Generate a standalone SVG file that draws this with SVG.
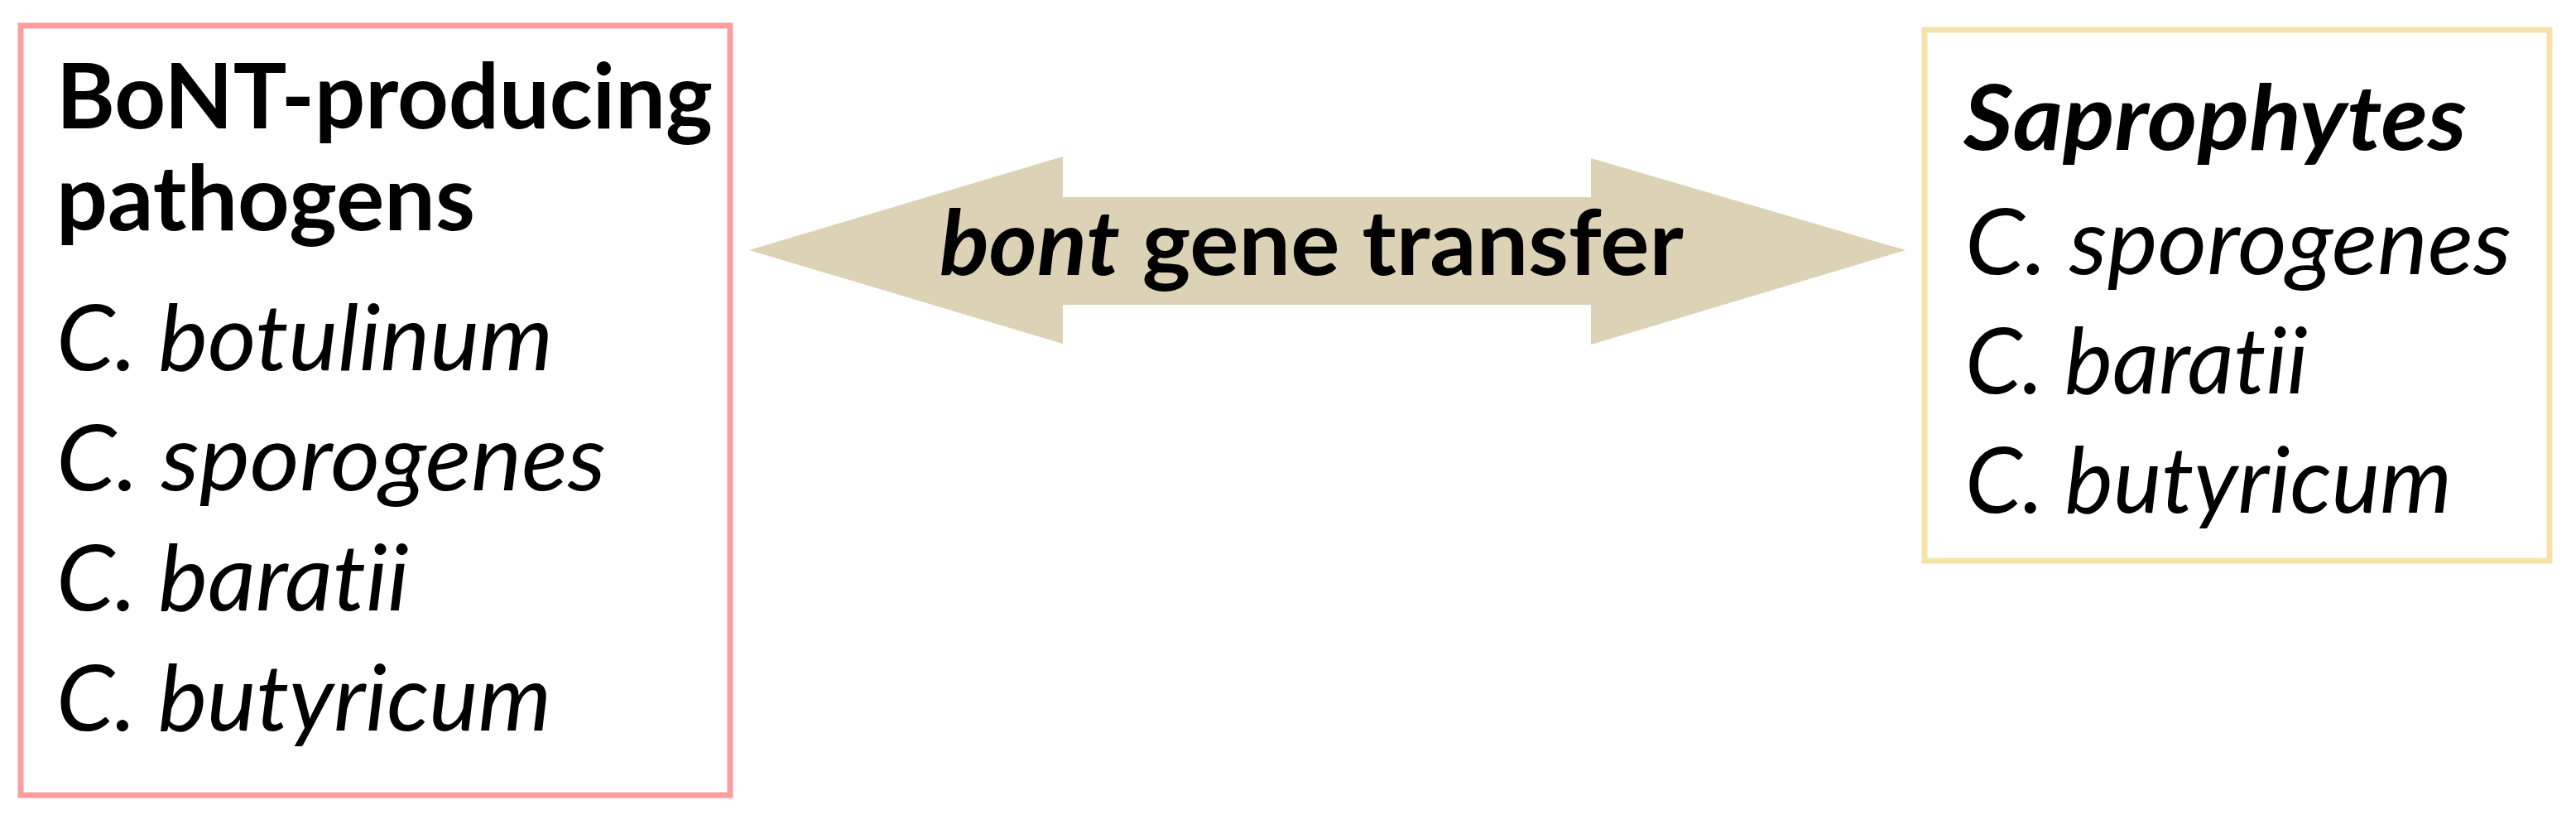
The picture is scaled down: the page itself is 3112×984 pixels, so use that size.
<svg xmlns="http://www.w3.org/2000/svg" width="3112" height="984" viewBox="0 0 3112 984">
<style>
.box{fill:#ffffff;stroke-width:7}
.t{font-family:Lato,"Open Sans","Liberation Sans",sans-serif;font-size:110px;fill:#000000;font-variant-ligatures:none;font-feature-settings:"liga" 0}
.b{font-weight:bold}
.i{font-style:italic}
</style>
<rect width="3112" height="984" fill="#ffffff"/>
<g id="connectors">
<polygon points="905,302 1284,189 1284,238 1922,238 1922,191 2302,302 1922,416 1922,368 1284,368 1284,415" fill="#DCD2B6"/>
<text class="t b" x="1135" y="332" textLength="899" lengthAdjust="spacingAndGlyphs"><tspan font-style="italic">bont</tspan> gene transfer</text>
</g>
<g id="pathogens">
<rect class="box" x="25" y="31" width="857" height="929" stroke="#FA9E9E"/>
<text class="t b" x="68" y="155" textLength="793" lengthAdjust="spacingAndGlyphs">BoNT-producing</text>
<text class="t b" x="68" y="278" textLength="506" lengthAdjust="spacingAndGlyphs">pathogens</text>
<text class="t i" x="68" y="447" textLength="600" lengthAdjust="spacingAndGlyphs">C. botulinum</text>
<text class="t i" x="68" y="592" textLength="664" lengthAdjust="spacingAndGlyphs">C. sporogenes</text>
<text class="t i" x="68" y="737" textLength="426" lengthAdjust="spacingAndGlyphs">C. baratii</text>
<text class="t i" x="68" y="882" textLength="598" lengthAdjust="spacingAndGlyphs">C. butyricum</text>
</g>
<g id="saprophytes">
<rect class="box" x="2325" y="36" width="755" height="641" stroke="#F5E3AA"/>
<text class="t b i" x="2372" y="181" textLength="608" lengthAdjust="spacingAndGlyphs">Saprophytes</text>
<text class="t i" x="2374" y="331" textLength="660" lengthAdjust="spacingAndGlyphs">C. sporogenes</text>
<text class="t i" x="2374" y="475" textLength="414" lengthAdjust="spacingAndGlyphs">C. baratii</text>
<text class="t i" x="2374" y="619" textLength="588" lengthAdjust="spacingAndGlyphs">C. butyricum</text>
</g>
</svg>
